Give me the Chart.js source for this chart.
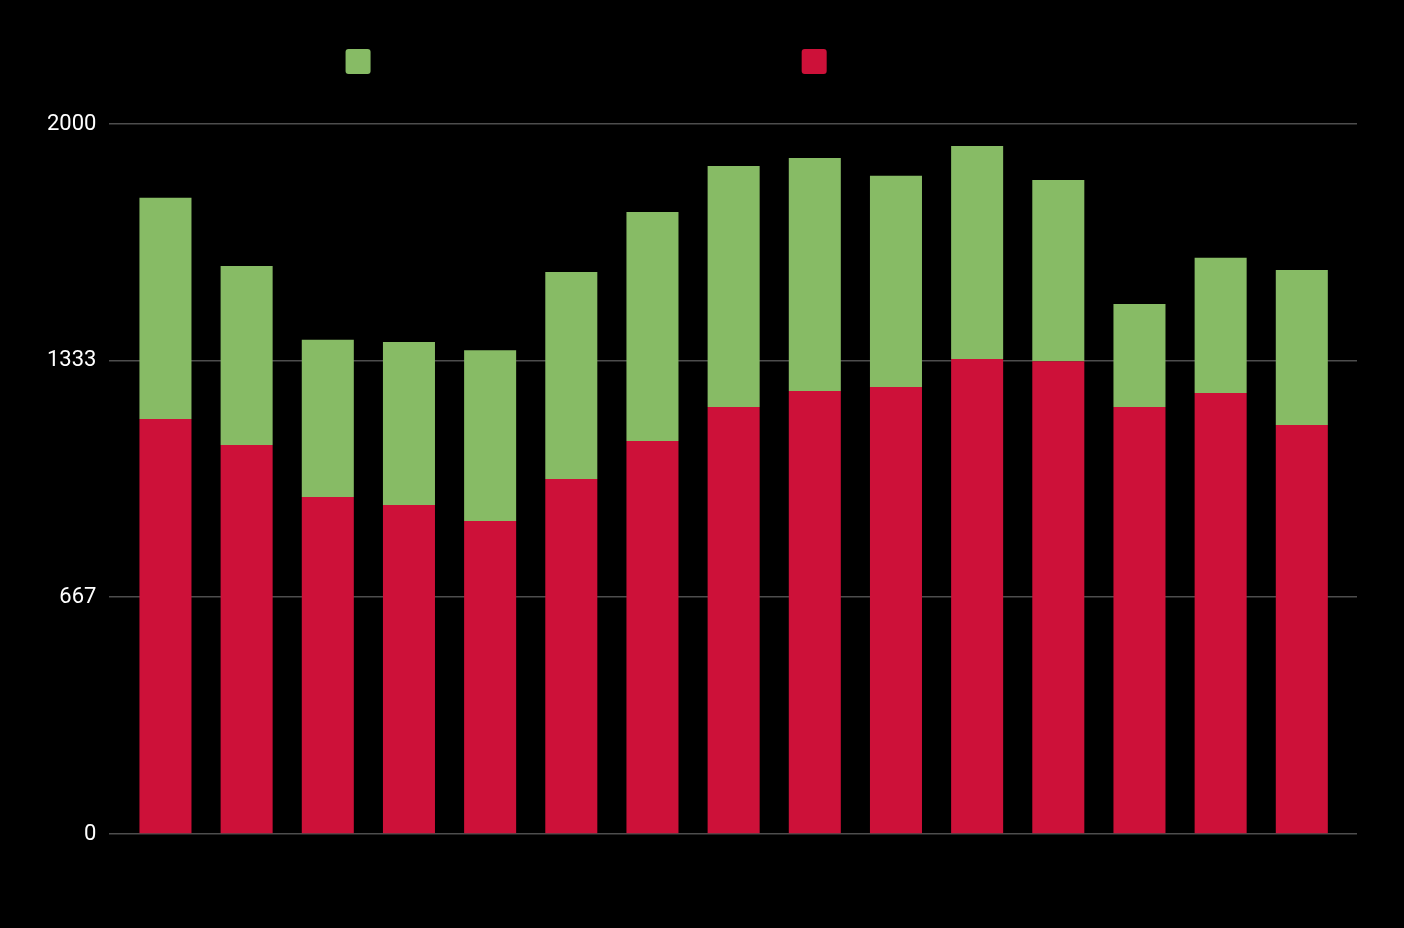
<!DOCTYPE html>
<html>
<head>
<meta charset="utf-8">
<script src="https://cdn.jsdelivr.net/npm/chart.js@4"></script>
<style>
  html, body { margin: 0; padding: 0; background: #000; }
  #wrap { width: 1404px; height: 928px; }
</style>
</head>
<body>
<div id="wrap"><canvas id="barChart" width="1404" height="928"></canvas></div>
<script>
const categories = [1, 2, 3, 4, 5, 6, 7, 8, 9, 10, 11, 12, 13, 14, 15];
const lowerValues = [1169, 1096, 949, 927, 882, 1000, 1107, 1203, 1248, 1259, 1338, 1332, 1203, 1242, 1152];
const upperValues = [623, 504, 443, 459, 481, 583, 645, 679, 656, 595, 600, 510, 290, 381, 437];
const lowerLabel = "Lower column segment";
const upperLabel = "Upper segment of each single stacked column";
const yTicks = [0, 667, 1333, 2000];

// extra room between the legend and the plot
const legendGap = {
  id: "legendGap",
  beforeInit(chart) {
    const fit = chart.legend.fit;
    chart.legend.fit = function () {
      fit.bind(chart.legend)();
      this.height += 40;
    };
  },
};

let toPoints = (values) => values.map((v, i) => ({ x: categories[i], y: v }));

new Chart(document.getElementById("barChart").getContext("2d"), {
  type: "bar",
  data: {
    datasets: [
      {
        label: lowerLabel,
        data: toPoints(lowerValues),
        backgroundColor: "#cd1139",
        barPercentage: 0.641,
        categoryPercentage: 1,
      },
      {
        label: upperLabel,
        data: toPoints(upperValues),
        backgroundColor: "#87bb65",
        barPercentage: 0.641,
        categoryPercentage: 1,
      },
    ],
  },
  plugins: [legendGap],
  options: {
    responsive: false,
    animation: false,
    layout: {
      padding: { left: 34, right: 47, top: 39, bottom: 86 },
    },
    plugins: {
      tooltip: { enabled: false },
      legend: {
        position: "top",
        reverse: true,
        labels: {
          color: "#000",
          font: { family: "Roboto", size: 20 },
          boxWidth: 25,
          boxHeight: 25,
          useBorderRadius: true,
          borderRadius: 3,
          padding: 10,
        },
      },
    },
    scales: {
      x: {
        type: "linear",
        stacked: true,
        offset: false,
        min: 0.31,
        max: 15.68,
        grid: { display: false },
        border: { display: false },
        ticks: { display: false },
      },
      y: {
        stacked: true,
        min: 0,
        max: 2000,
        afterBuildTicks: (axis) => {
          axis.ticks = yTicks.map((v) => ({ value: v }));
        },
        ticks: {
          color: "#fff",
          padding: 13,
          font: { family: "Roboto", size: 22 },
          callback: (v) => String(v),
        },
        grid: { color: "#4d4d4d", lineWidth: 1.5, drawTicks: false },
        border: { display: false },
      },
    },
  },
});
</script>
</body>
</html>
